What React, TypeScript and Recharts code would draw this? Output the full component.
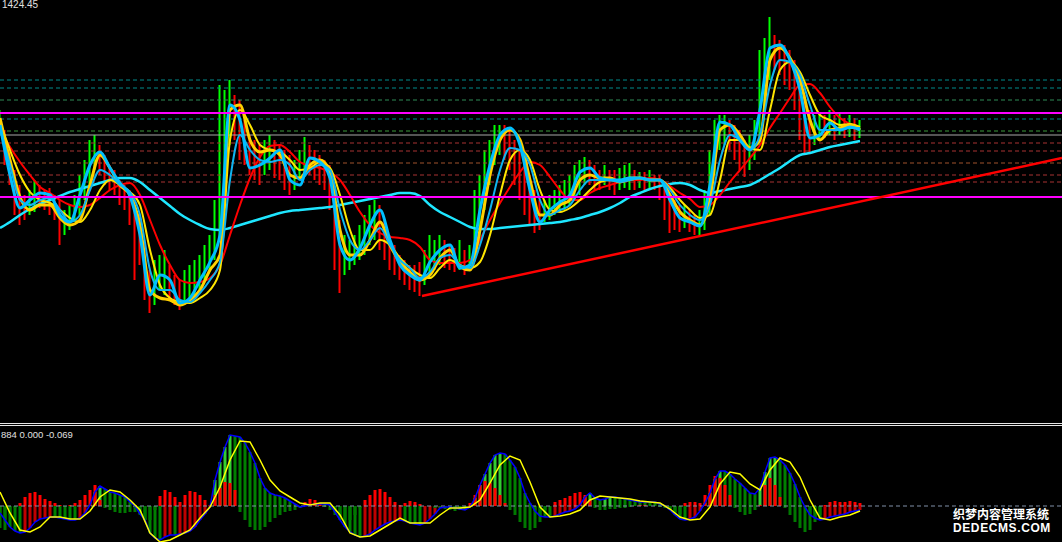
import { ComposedChart, Bar, Line, XAxis, YAxis, ReferenceLine, Cell } from 'recharts';

// price bars, one every 5px of the window
const candleHigh = [
  1414.0, 1412.0, 1410.0, 1408.0, 1406.5, 1405.5, 1406.0, 1407.0, 1406.5, 1406.0,
  1406.2, 1405.5, 1405.0, 1404.0, 1404.5, 1405.5, 1407.5, 1409.0, 1411.0, 1411.5,
  1410.5, 1409.5, 1408.5, 1408.0, 1407.0, 1406.5, 1406.0, 1405.5, 1403.5, 1401.0,
  1398.0, 1399.0, 1399.5, 1400.0, 1398.5, 1397.5, 1397.0, 1398.0, 1398.5, 1399.0,
  1399.5, 1400.5, 1401.5, 1405.0, 1416.5, 1416.0, 1417.0, 1415.5, 1415.0, 1413.0,
  1411.5, 1411.0, 1410.5, 1411.0, 1411.5, 1411.0, 1410.5, 1410.0, 1409.5, 1409.0,
  1410.0, 1411.3, 1410.5, 1410.0, 1409.5, 1409.0, 1408.5, 1406.0, 1403.0, 1401.5,
  1401.0, 1401.5, 1402.5, 1403.5, 1404.5, 1405.0, 1404.5, 1403.0, 1401.5, 1400.5,
  1399.5, 1399.0, 1398.5, 1398.5, 1398.8, 1400.0, 1401.5, 1401.0, 1401.5, 1401.0,
  1400.5, 1400.2, 1401.0, 1400.0, 1400.5, 1406.0, 1407.5, 1410.0, 1411.0, 1412.5,
  1412.5, 1412.5, 1412.0, 1411.0, 1410.0, 1409.0, 1407.5, 1406.0, 1405.0, 1405.0,
  1405.5, 1406.0, 1406.5, 1407.0, 1407.5, 1408.5, 1409.0, 1409.3, 1409.0, 1408.5,
  1408.0, 1408.5, 1408.0, 1408.0, 1408.2, 1408.5, 1408.7, 1408.0, 1407.8, 1407.8,
  1408.0, 1407.5, 1407.5, 1406.5, 1405.5, 1405.0, 1404.5, 1404.5, 1404.0, 1403.5,
  1404.0, 1406.0, 1410.0, 1413.0, 1413.5, 1413.5, 1413.0, 1412.5, 1412.0, 1411.0,
  1411.5, 1413.0, 1420.0, 1421.2, 1423.3, 1421.5, 1421.0, 1420.5, 1420.0, 1419.0,
  1417.5, 1415.5, 1414.0, 1413.5, 1413.8, 1413.5, 1414.0, 1413.5, 1413.8, 1413.2,
  1413.5, 1413.2, 1413.0,
];
const candleLow = [
  1411.5, 1408.5, 1406.5, 1403.5, 1402.5, 1403.0, 1403.5, 1403.8, 1404.2, 1404.0,
  1403.5, 1403.0, 1400.5, 1401.5, 1402.0, 1402.8, 1403.5, 1405.0, 1406.5, 1408.0,
  1407.5, 1406.5, 1406.0, 1405.5, 1404.5, 1404.0, 1402.5, 1397.0, 1398.5, 1395.0,
  1393.7, 1394.5, 1396.0, 1395.5, 1395.0, 1394.5, 1394.0, 1394.5, 1395.0, 1395.5,
  1396.0, 1397.0, 1398.0, 1399.0, 1401.0, 1405.0, 1410.5, 1411.0, 1409.0, 1408.5,
  1407.5, 1407.0, 1406.5, 1407.5, 1408.0, 1407.2, 1407.0, 1406.0, 1405.5, 1406.0,
  1407.0, 1407.5, 1407.5, 1407.0, 1406.5, 1406.0, 1404.0, 1398.0, 1395.7, 1397.5,
  1398.0, 1398.5, 1399.0, 1399.5, 1400.5, 1401.0, 1400.0, 1399.0, 1398.0, 1397.5,
  1397.0, 1396.5, 1396.0, 1395.8, 1395.4, 1396.5, 1397.5, 1398.0, 1398.5, 1398.2,
  1398.0, 1397.8, 1398.0, 1397.5, 1398.0, 1399.0, 1401.0, 1404.0, 1406.5, 1408.5,
  1409.5, 1409.0, 1408.0, 1406.5, 1405.0, 1403.5, 1402.5, 1401.7, 1402.0, 1402.8,
  1403.0, 1403.5, 1403.8, 1404.0, 1404.5, 1405.0, 1405.5, 1406.5, 1406.5, 1406.0,
  1406.0, 1406.5, 1406.0, 1405.5, 1406.0, 1406.2, 1406.0, 1406.0, 1406.2, 1406.0,
  1406.2, 1406.0, 1405.0, 1403.0, 1401.7, 1402.0, 1401.8, 1402.2, 1401.8, 1401.5,
  1401.4, 1402.0, 1403.5, 1407.5, 1410.0, 1410.5, 1410.0, 1409.0, 1408.0, 1407.3,
  1408.0, 1409.0, 1410.5, 1414.0, 1417.0, 1418.0, 1417.5, 1416.5, 1416.0, 1414.0,
  1411.0, 1409.7, 1409.7, 1410.5, 1411.0, 1411.2, 1411.5, 1411.0, 1411.5, 1411.2,
  1411.3, 1411.0, 1411.2,
];

// moving averages, one point every second bar
const maFastBlue = [
  1412.5, 1407.5, 1404.2, 1405.0, 1405.7, 1405.5, 1403.5, 1402.8, 1405.5, 1408.5,
  1409.8, 1408.2, 1406.7, 1405.4, 1401.5, 1395.5, 1397.5, 1397.0, 1394.7, 1395.2,
  1397.0, 1398.8, 1401.5, 1414.5, 1413.0, 1408.2, 1408.5, 1409.2, 1410.0, 1407.0,
  1406.5, 1409.2, 1408.8, 1407.2, 1400.5, 1399.0, 1400.2, 1402.5, 1404.0, 1401.0,
  1398.5, 1397.5, 1397.0, 1398.8, 1400.0, 1400.5, 1398.2, 1398.5, 1404.0, 1408.5,
  1411.5, 1412.2, 1410.5, 1406.0, 1402.8, 1404.0, 1404.8, 1405.5, 1407.8, 1408.2,
  1407.2, 1407.0, 1407.0, 1407.2, 1407.2, 1407.0, 1407.0, 1405.0, 1403.2, 1402.8,
  1402.4, 1406.5, 1412.8, 1412.5, 1411.0, 1410.0, 1414.0, 1420.2, 1420.5, 1419.0,
  1416.0, 1411.2, 1411.5, 1412.7, 1412.0, 1412.3, 1412.0,
];
const maSlowBlue = [
  1412.2, 1408.5, 1405.0, 1404.5, 1405.0, 1405.2, 1404.0, 1402.8, 1403.5, 1406.0,
  1408.0, 1407.5, 1406.5, 1405.8, 1403.5, 1398.0, 1396.0, 1396.0, 1395.0, 1394.8,
  1395.7, 1397.0, 1398.8, 1407.0, 1411.5, 1410.0, 1409.0, 1408.8, 1409.0, 1408.5,
  1407.0, 1408.0, 1408.5, 1408.0, 1404.0, 1401.0, 1400.0, 1401.0, 1402.2, 1400.5,
  1399.0, 1398.2, 1397.2, 1397.8, 1399.2, 1399.5, 1398.5, 1398.2, 1400.5, 1404.0,
  1408.0, 1410.2, 1410.0, 1408.5, 1405.0, 1403.5, 1404.0, 1404.5, 1406.0, 1407.0,
  1407.0, 1407.0, 1406.8, 1407.0, 1407.2, 1407.0, 1407.0, 1406.0, 1404.5, 1403.5,
  1403.0, 1404.5, 1409.0, 1411.5, 1411.0, 1410.0, 1411.5, 1416.5, 1419.0, 1418.8,
  1417.5, 1414.5, 1412.0, 1412.0, 1412.0, 1412.2, 1412.2,
];
const maFastGold = [
  1413.2, 1409.0, 1405.3, 1404.0, 1404.5, 1404.5, 1403.2, 1402.5, 1403.0, 1406.5,
  1409.5, 1408.2, 1406.5, 1405.5, 1402.5, 1396.0, 1395.2, 1395.0, 1394.5, 1395.0,
  1396.0, 1398.0, 1399.5, 1414.0, 1414.5, 1411.0, 1409.8, 1410.0, 1409.5, 1407.5,
  1407.2, 1408.5, 1409.0, 1407.8, 1402.0, 1399.5, 1399.5, 1401.0, 1402.8, 1400.5,
  1398.8, 1397.8, 1397.0, 1397.5, 1399.2, 1400.0, 1398.3, 1398.0, 1402.0, 1407.5,
  1411.0, 1412.0, 1411.0, 1407.0, 1403.5, 1403.5, 1404.5, 1405.0, 1407.0, 1407.5,
  1407.2, 1407.2, 1406.8, 1407.2, 1407.2, 1407.0, 1407.0, 1405.5, 1403.8, 1403.0,
  1402.5, 1405.0, 1412.0, 1412.5, 1411.5, 1410.2, 1411.0, 1419.0, 1420.2, 1419.2,
  1417.0, 1413.0, 1411.0, 1412.0, 1412.2, 1412.5, 1412.0,
];
const maSlowYellow = [
  1412.8, 1410.0, 1407.5, 1405.8, 1405.0, 1404.7, 1404.0, 1403.2, 1402.8, 1404.0,
  1406.0, 1407.0, 1406.5, 1405.8, 1404.5, 1400.0, 1396.5, 1395.2, 1394.8, 1394.7,
  1395.2, 1396.0, 1398.0, 1411.0, 1414.0, 1412.5, 1410.5, 1410.0, 1409.8, 1409.0,
  1408.0, 1408.2, 1408.8, 1408.2, 1405.5, 1402.0, 1400.0, 1400.0, 1401.0, 1400.5,
  1399.2, 1398.2, 1397.5, 1397.2, 1398.2, 1399.0, 1398.5, 1398.2, 1398.8, 1401.5,
  1405.5, 1409.0, 1410.0, 1409.0, 1406.0, 1404.0, 1403.8, 1404.2, 1405.0, 1406.0,
  1406.8, 1407.0, 1406.8, 1407.0, 1407.2, 1407.0, 1407.0, 1406.2, 1405.0, 1404.0,
  1403.2, 1403.5, 1407.0, 1411.0, 1411.0, 1410.2, 1410.0, 1414.0, 1418.0, 1418.8,
  1417.8, 1415.5, 1413.5, 1413.0, 1412.5, 1412.6, 1412.3,
];
const maRed = [
  1412.0, 1410.3, 1408.8, 1407.5, 1406.3, 1405.7, 1405.0, 1404.5, 1404.3, 1404.5,
  1405.2, 1406.0, 1406.5, 1406.7, 1405.5, 1403.0, 1400.5, 1398.5, 1397.0, 1396.7,
  1396.8, 1397.2, 1398.5, 1401.5, 1404.5, 1407.2, 1409.3, 1410.4, 1410.5, 1409.8,
  1408.8, 1408.4, 1408.2, 1407.8, 1407.0, 1405.5, 1403.8, 1402.5, 1401.7, 1401.3,
  1401.2, 1401.0, 1400.3, 1399.0, 1398.7, 1398.7, 1398.7, 1399.0, 1401.0, 1403.0,
  1404.7, 1406.3, 1407.8, 1408.8, 1408.5, 1407.3, 1406.0, 1405.0, 1405.0, 1405.7,
  1406.2, 1406.5, 1406.8, 1407.0, 1407.0, 1407.2, 1407.0, 1406.4, 1405.7, 1405.1,
  1404.3, 1404.5, 1405.5, 1406.8, 1408.0, 1409.2, 1410.5, 1412.2, 1413.7, 1415.2,
  1416.5, 1416.6, 1415.7, 1414.3, 1413.2, 1412.6, 1412.2,
];
const maCyan = [
  1402.2, 1402.8, 1403.5, 1404.1, 1404.6, 1405.0, 1405.4, 1405.8, 1406.1, 1406.4,
  1406.7, 1407.0, 1407.2, 1407.2, 1406.8, 1406.0, 1405.2, 1404.4, 1403.6, 1403.0,
  1402.5, 1402.1, 1402.0, 1402.2, 1402.5, 1402.8, 1403.1, 1403.4, 1403.7, 1403.9,
  1404.0, 1404.1, 1404.2, 1404.3, 1404.5, 1404.7, 1404.9, 1405.1, 1405.3, 1405.5,
  1405.7, 1405.7, 1405.4, 1404.5, 1403.8, 1403.3, 1402.8, 1402.3, 1402.1, 1402.1,
  1402.2, 1402.3, 1402.4, 1402.5, 1402.6, 1402.7, 1402.8, 1403.0, 1403.2, 1403.5,
  1403.8, 1404.2, 1404.7, 1405.3, 1405.7, 1406.1, 1406.4, 1406.6, 1406.7, 1406.5,
  1406.0, 1405.7, 1405.9, 1406.1, 1406.3, 1406.5, 1407.0, 1407.6, 1408.2, 1408.9,
  1409.5, 1409.7, 1410.0, 1410.3, 1410.5, 1410.7, 1410.9,
];

// horizontal levels
const bandLevels = [1413.7, 1405.3];
const gridLevels = [1417.0, 1416.2, 1415.0, 1413.1, 1411.9, 1410.7, 1409.9, 1408.7, 1407.5, 1406.8];
const pivotLevel = 1411.5;
const trendFrom = { bar: 84.4, price: 1395.4 };
const trendTo = { bar: 212.4, price: 1409.2 };

// MACD window
const macdMain = [
  -0.7, -1.4, -2.1, -2.5, -2.7, -2.6, -2.2, -1.6, -1.3, -1.2,
  -1.1, -1.1, -1.2, -1.3, -1.4, -1.4, -1.2, -0.7, 0.1, 1.4,
  2.0, 1.7, 1.4, 1.3, 1.1, 0.9, 0.4, 0.0, -0.8, -1.4,
  -2.7, -3.2, -3.4, -3.1, -2.9, -2.9, -2.8, -2.7, -2.5, -2.1,
  -1.4, -0.8, -0.1, 2.6, 4.4, 5.9, 7.1, 7.0, 6.9, 6.3,
  5.4, 4.3, 2.8, 1.8, 1.3, 1.1, 1.0, 0.8, 0.5, 0.2,
  -0.1, 0.0, 0.1, 0.2, 0.2, 0.2, 0.1, -0.6, -1.4, -2.1,
  -2.6, -2.9, -3.1, -3.0, -2.8, -2.4, -2.1, -1.8, -1.6, -1.5,
  -1.4, -1.5, -1.7, -1.8, -1.9, -1.7, -1.3, -0.8, -0.2, -0.1,
  -0.1, -0.2, -0.3, -0.4, -0.1, 0.8, 2.1, 3.2, 4.3, 5.1,
  5.3, 5.2, 4.6, 3.9, 2.8, 1.3, 0.3, -0.5, -1.0, -1.1,
  -1.1, -1.0, -0.8, -0.6, -0.5, -0.3, 0.1, 0.9, 1.3, 0.8,
  0.6, 0.7, 0.9, 0.9, 0.8, 0.7, 0.6, 0.5, 0.4, 0.4,
  0.4, 0.4, 0.2, 0.0, -0.4, -0.9, -1.3, -1.4, -1.3, -1.1,
  -0.5, 0.3, 1.3, 2.7, 3.5, 3.5, 3.2, 2.7, 2.3, 1.8,
  1.3, 1.2, 1.8, 3.4, 4.8, 4.9, 4.6, 4.1, 3.3, 2.2,
  0.9, -0.1, -0.9, -1.2, -1.4, -1.3, -1.1, -1.0, -0.9, -0.8,
  -0.6, -0.5, -0.4,
];
const macdOsma = [
  -2.2, -2.4, -0.9, -0.2, 0.3, 0.9, 1.3, 1.4, 1.1, 0.7,
  0.5, 0.3, 0.1, 0.0, 0.1, 0.3, 0.6, 1.1, 1.6, 2.1,
  0.6, -0.2, -0.4, -0.6, -0.7, -0.7, -0.6, -0.6, -0.9, -1.4,
  -1.4, -0.4, 1.0, 1.6, 1.4, 0.9, 0.4, 1.1, 1.5, 1.4,
  1.1, 0.6, 0.1, 1.1, 1.8, 2.4, 2.3, 1.6, -0.6, -1.4,
  -2.1, -2.4, -2.4, -2.1, -1.6, -1.2, -0.9, -0.6, -0.5, -0.4,
  -0.2, 0.4, 0.7, 0.6, 0.3, -0.1, -0.4, -0.9, -1.2, -1.4,
  -1.4, -0.9, -0.2, 0.6, 1.1, 1.6, 1.7, 1.4, 0.9, 0.4,
  0.1, 0.3, 0.5, 0.4, 0.2, 0.0, 0.0, -0.2, -0.2, -0.3,
  -0.4, -0.5, -0.4, -0.2, 0.3, 1.1, 2.1, 2.5, 2.3, 1.8,
  1.1, 0.3, -0.4, -0.9, -1.6, -2.2, -2.4, -2.2, -1.6, -0.4,
  0.0, 0.4, 0.6, 0.8, 1.0, 1.3, 1.4, 1.1, 0.6, -0.2,
  -0.4, -0.4, -0.3, -0.3, -0.2, -0.2, -0.1, 0.0, 0.1, 0.1,
  0.0, 0.0, -0.1, -0.2, -0.4, -0.6, -0.8, 0.3, 0.4, 0.4,
  0.3, 1.1, 2.1, 3.0, 2.8, 2.1, 1.1, -0.2, -0.6, -0.9,
  -0.8, -0.4, 0.1, 2.1, 2.8, 2.1, 0.9, -0.2, -0.9, -1.6,
  -2.2, -2.6, -2.4, -1.6, -0.9, 0.1, 0.4, 0.5, 0.4, 0.4,
  0.5, 0.4, 0.3,
];
const macdSignal = [
  1.4, -0.7, -2.4, -2.6, -2.1, -1.1, -1.1, -1.3, -1.3, -0.5,
  0.9, 1.6, 1.4, 0.6, -0.4, -2.7, -3.6, -3.4, -2.9, -2.4,
  -1.2, -0.1, 1.9, 4.6, 6.5, 6.4, 4.6, 2.6, 1.5, 0.9,
  0.3, 0.1, 0.3, 0.3, -0.9, -2.7, -3.1, -3.0, -2.4, -1.8,
  -1.2, -1.7, -1.7, -1.7, -0.9, -0.2, -0.2, -0.1, 0.6, 2.3,
  4.1, 5.0, 4.6, 2.4, -0.1, -1.1, -1.0, -0.8, -0.4, 0.6,
  1.0, 0.9, 0.8, 0.7, 0.5, 0.4, 0.3, -0.3, -1.1, -1.4,
  -1.3, -0.1, 2.2, 3.4, 3.2, 2.2, 1.6, 3.6, 4.8, 4.4,
  2.9, 0.6, -1.2, -1.4, -1.1, -0.9, -0.5,
];

const BAR_SPAN = 212.4; // visible bars across the window

const everyOther = (arr: number[], i: number) => (i % 2 === 0 ? arr[i / 2] : null);

const priceRows = candleHigh.map((high, i) => {
  const low = candleLow[i];
  const prevMid = i > 0 ? (candleHigh[i - 1] + candleLow[i - 1]) / 2 : (high + low) / 2;
  return {
    bar: i,
    range: [low, high],
    up: (high + low) / 2 >= prevMid,
    fastBlue: everyOther(maFastBlue, i),
    slowBlue: everyOther(maSlowBlue, i),
    fastGold: everyOther(maFastGold, i),
    slowYellow: everyOther(maSlowYellow, i),
    red: everyOther(maRed, i),
    cyan: everyOther(maCyan, i),
  };
});

const macdRows = macdMain.map((v, i) => ({
  bar: i,
  macd: v,
  osma: macdOsma[i],
  signal: everyOther(macdSignal, i),
  rising: i > 0 ? v > macdMain[i - 1] : false,
}));

const gridColors = ['#008b8b', '#008b8b', '#2e8b57', '#008b8b', '#3c9a3c', '#a83232', '#a83232', '#a0522d', '#a83232', '#a83232'];

function macdColor(v: number, rising: boolean) {
  if (v >= 0) return rising ? '#32cd32' : '#008000';
  return rising ? '#c00000' : '#008000';
}

export default function App() {
  const line = { dot: false, activeDot: false, isAnimationActive: false, connectNulls: true, type: 'monotone' as const };
  return (
    <div style={{ position: 'absolute', left: 0, top: 0, width: 1062, height: 542, background: '#000', overflow: 'hidden' }}>
      <ComposedChart width={1062} height={423} data={priceRows} margin={{ top: 0, right: 0, bottom: 0, left: 0 }}>
        <XAxis hide type="number" dataKey="bar" domain={[0, BAR_SPAN]} allowDataOverflow />
        <YAxis hide domain={[1382.7, 1425]} allowDataOverflow />
        {gridLevels.map((p, i) => (
          <ReferenceLine key={p} y={p} stroke={gridColors[i]} strokeDasharray="4 3" />
        ))}
        <ReferenceLine y={pivotLevel} stroke="#a8a8a8" />
        <Bar dataKey="range" barSize={2} isAnimationActive={false}>
          {priceRows.map((r) => (
            <Cell key={r.bar} fill={r.up ? '#00ff00' : '#ff0000'} />
          ))}
        </Bar>
        <Line {...line} dataKey="cyan" stroke="#1ee6ff" strokeWidth={2.5} />
        <Line {...line} dataKey="red" stroke="#ff0000" strokeWidth={2} />
        <Line {...line} dataKey="slowYellow" stroke="#ffe600" strokeWidth={2} />
        <Line {...line} dataKey="fastGold" stroke="#ffd000" strokeWidth={3} />
        <Line {...line} dataKey="slowBlue" stroke="#10b4f0" strokeWidth={2} />
        <Line {...line} dataKey="fastBlue" stroke="#00bfff" strokeWidth={3} />
        {bandLevels.map((p) => (
          <ReferenceLine key={p} y={p} stroke="#ff00ff" strokeWidth={2} />
        ))}
        <ReferenceLine
          segment={[{ x: trendFrom.bar, y: trendFrom.price }, { x: trendTo.bar, y: trendTo.price }]}
          stroke="#ff0000"
          strokeWidth={2.5}
        />
      </ComposedChart>

      <div style={{ position: 'absolute', left: 0, top: 423, width: 1062, height: 1, background: '#e6e6e6' }} />
      <div style={{ position: 'absolute', left: 0, top: 425, width: 1062, height: 1, background: '#e6e6e6' }} />

      <div style={{ position: 'absolute', left: 0, top: 427 }}>
        <ComposedChart width={1062} height={115} data={macdRows} barGap={-3} margin={{ top: 0, right: 0, bottom: 0, left: 0 }}>
          <XAxis hide type="number" dataKey="bar" domain={[0, BAR_SPAN]} allowDataOverflow />
          <YAxis hide domain={[-3.6, 7.9]} allowDataOverflow />
          <ReferenceLine y={0} stroke="#8090a8" strokeDasharray="4 3" />
          <Bar dataKey="macd" barSize={3} isAnimationActive={false}>
            {macdRows.map((r) => (
              <Cell key={r.bar} fill={macdColor(r.macd, r.rising)} />
            ))}
          </Bar>
          <Bar dataKey="osma" barSize={3} isAnimationActive={false}>
            {macdRows.map((r) => (
              <Cell key={r.bar} fill={r.osma >= 0 ? '#ff0000' : '#007800'} />
            ))}
          </Bar>
          <Line dataKey="macd" type="linear" stroke="#0000ff" strokeWidth={1.5} dot={false} activeDot={false} isAnimationActive={false} />
          <Line dataKey="signal" type="linear" stroke="#ffff00" strokeWidth={1.5} dot={false} activeDot={false} connectNulls isAnimationActive={false} />
        </ComposedChart>
      </div>

      <div style={{ position: 'absolute', left: 2, top: 0, font: '10px "Liberation Sans", sans-serif', lineHeight: '10px', color: '#e0e0e0' }}>
        1424.45
      </div>
      <div style={{ position: 'absolute', left: 1, top: 430, font: '9.5px "Liberation Sans", sans-serif', lineHeight: '10px', color: '#e0e0e0' }}>
        884 0.000 -0.069
      </div>

      <svg width={1062} height={542} style={{ position: 'absolute', left: 0, top: 0, pointerEvents: 'none' }}>
        <text x={953} y={519} fontSize={12} fontFamily='"Noto Sans CJK SC", sans-serif' fontWeight={700} fill="#fff" stroke="#000" strokeWidth={2} paintOrder="stroke">
          织梦内容管理系统
        </text>
        <text x={953} y={532} fontSize={12} fontFamily='"Liberation Sans", sans-serif' fontWeight={700} letterSpacing={0.6} fill="#fff" stroke="#000" strokeWidth={2} paintOrder="stroke">
          DEDECMS.COM
        </text>
      </svg>
    </div>
  );
}
